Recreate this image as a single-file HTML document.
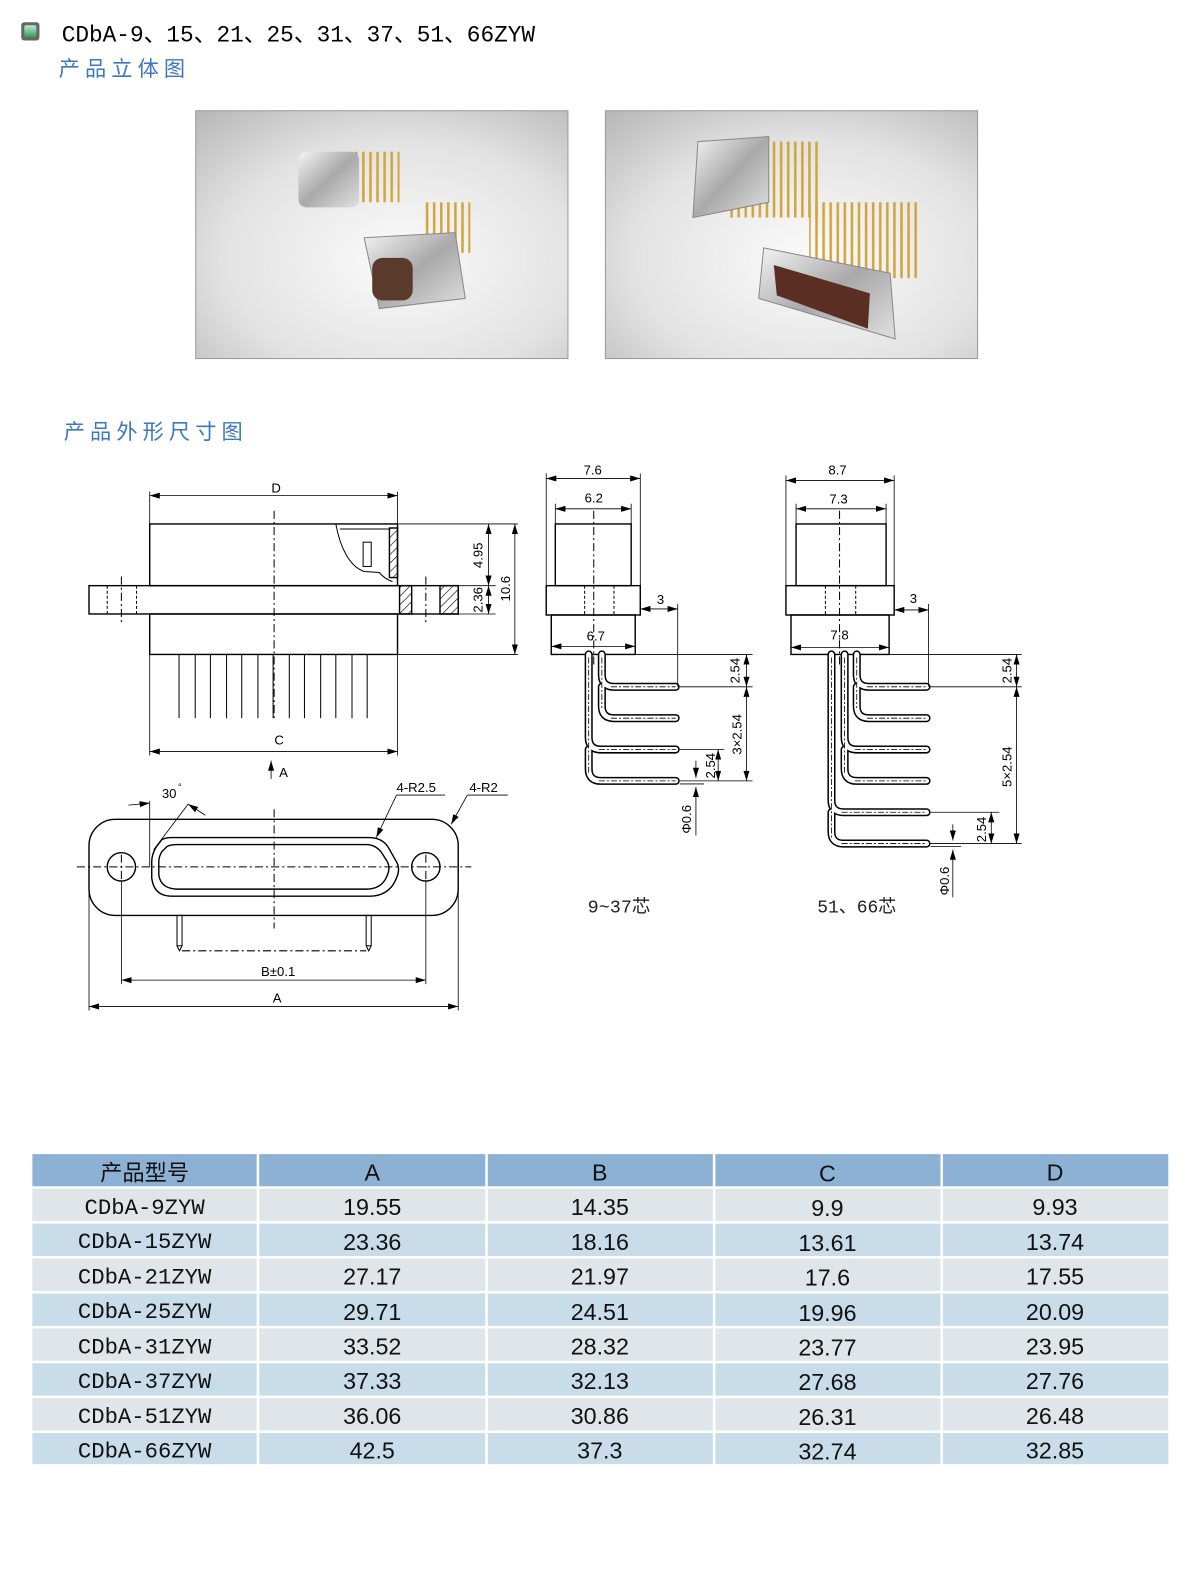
<!DOCTYPE html>
<html><head><meta charset="utf-8"><style>
html,body{margin:0;padding:0;background:#fff;width:1200px;height:1586px;overflow:hidden;}
svg{display:block}
</style></head><body>
<svg width="1200" height="1586" viewBox="0 0 1200 1586" xmlns="http://www.w3.org/2000/svg" font-family="Liberation Sans, sans-serif">
<defs>
<marker id="ar" viewBox="0 0 10 6" refX="10" refY="3" markerWidth="10" markerHeight="6" orient="auto-start-reverse" markerUnits="userSpaceOnUse"><path d="M0,0L10,3L0,6z" fill="#000"/></marker>
<linearGradient id="ic" x1="0" y1="0" x2="0" y2="1"><stop offset="0" stop-color="#bfe8cf"/><stop offset="1" stop-color="#2f9a5c"/></linearGradient>
<radialGradient id="bg" cx="0.55" cy="0.6" r="0.8"><stop offset="0" stop-color="#fbfbfb"/><stop offset="0.6" stop-color="#e2e2e2"/><stop offset="1" stop-color="#b8b8b8"/></radialGradient>
<linearGradient id="mt" x1="0" y1="0" x2="1" y2="1"><stop offset="0" stop-color="#f4f4f4"/><stop offset="0.5" stop-color="#a9a9a9"/><stop offset="1" stop-color="#e0e0e0"/></linearGradient>
<pattern id="gold" width="7" height="10" patternUnits="userSpaceOnUse"><rect x="1" width="2.5" height="10" fill="#d2a53c"/></pattern>
<pattern id="hat" width="6" height="6" patternUnits="userSpaceOnUse" patternTransform="rotate(45)"><line x1="0" y1="0" x2="0" y2="6" stroke="#000" stroke-width="1.2"/></pattern>
</defs>
<g transform="scale(1.0115)">
<rect x="21" y="22" width="18" height="18" rx="3" fill="#666"/>
<rect x="24" y="25" width="12" height="12" rx="2" fill="url(#ic)"/>
<text x="61" y="41" font-family="Liberation Mono, 'Noto Sans CJK SC', monospace" font-size="23" textLength="468" lengthAdjust="spacingAndGlyphs">CDbA-9、15、21、25、31、37、51、66ZYW</text>
<text x="58" y="75" font-family="'Noto Sans CJK SC', sans-serif" font-size="21" fill="#3b78bd" textLength="125">产品立体图</text>
<text x="63" y="434" font-family="'Noto Sans CJK SC', sans-serif" font-size="21" fill="#3b78bd" textLength="177">产品外形尺寸图</text>

<rect x="193.5" y="109.5" width="368" height="245" fill="url(#bg)" stroke="#999"/>
<rect x="598.5" y="109.5" width="368" height="245" fill="url(#bg)" stroke="#999"/>
<g>
<rect x="350" y="150" width="45" height="50" fill="url(#gold)"/>
<rect x="295" y="150" width="60" height="55" rx="8" fill="url(#mt)"/>
<rect x="420" y="200" width="45" height="50" fill="url(#gold)"/>
<path d="M360 235 L450 230 L460 295 L375 305 Z" fill="url(#mt)" stroke="#888"/>
<rect x="368" y="255" width="40" height="42" rx="10" fill="#5a3a2a"/>
</g>
<g>
<rect x="720" y="140" width="90" height="75" fill="url(#gold)"/>
<path d="M690 140 L760 135 L760 200 L685 215 Z" fill="url(#mt)" stroke="#888"/>
<rect x="800" y="200" width="110" height="75" fill="url(#gold)"/>
<path d="M755 245 L880 270 L885 335 L750 295 Z" fill="url(#mt)" stroke="#888"/>
<path d="M765 262 L860 290 L858 325 L768 292 Z" fill="#5a2e22"/>
</g>

<g fill="none" stroke="#000" stroke-width="1.4">
<rect x="148" y="518" width="245" height="61"/>
<rect x="88" y="579" width="365" height="28"/>
<rect x="148" y="607" width="245" height="40"/>
<rect x="385" y="522" width="8" height="49" fill="url(#hat)"/>
<rect x="395" y="579" width="12" height="28" fill="url(#hat)"/>
<rect x="435" y="579" width="18" height="28" fill="url(#hat)"/>
<path d="M332 518 C336 540 345 560 360 565 L375 566 C380 572 385 574 388 575" stroke-width="1"/>
<path d="M336 523 L385 523" stroke-width="1"/>
<rect x="359" y="536" width="8" height="24" stroke-width="1"/>
<g stroke-width="1">
<line x1="177" y1="647" x2="177" y2="710"/><line x1="193" y1="647" x2="193" y2="710"/><line x1="208" y1="647" x2="208" y2="710"/><line x1="224" y1="647" x2="224" y2="710"/><line x1="239" y1="647" x2="239" y2="710"/><line x1="255" y1="647" x2="255" y2="710"/><line x1="270" y1="647" x2="270" y2="710"/><line x1="286" y1="647" x2="286" y2="710"/><line x1="301" y1="647" x2="301" y2="710"/><line x1="317" y1="647" x2="317" y2="710"/><line x1="332" y1="647" x2="332" y2="710"/><line x1="348" y1="647" x2="348" y2="710"/><line x1="363" y1="647" x2="363" y2="710"/>
</g>
<g stroke-width="1" stroke-dasharray="8 3 2 3">
<line x1="271" y1="505" x2="271" y2="712"/>
<line x1="120" y1="570" x2="120" y2="616"/>
<line x1="421" y1="570" x2="421" y2="616"/>
</g>
<g stroke-width="1" stroke-dasharray="3 2"><line x1="106" y1="579" x2="106" y2="607"/><line x1="135" y1="579" x2="135" y2="607"/></g>
<g stroke-width="0.8">
<line x1="148" y1="486" x2="148" y2="518"/><line x1="393" y1="486" x2="393" y2="518"/>
<line x1="148" y1="490" x2="393" y2="490" marker-start="url(#ar)" marker-end="url(#ar)"/>
<line x1="148" y1="647" x2="148" y2="747"/><line x1="393" y1="647" x2="393" y2="747"/>
<line x1="148" y1="743" x2="393" y2="743" marker-start="url(#ar)" marker-end="url(#ar)"/>
<line x1="393" y1="518" x2="512" y2="518"/><line x1="453" y1="579" x2="490" y2="579"/><line x1="453" y1="607" x2="490" y2="607"/><line x1="393" y1="647" x2="512" y2="647"/>
<line x1="483" y1="518" x2="483" y2="579" marker-start="url(#ar)" marker-end="url(#ar)"/>
<line x1="483" y1="579" x2="483" y2="607" marker-start="url(#ar)" marker-end="url(#ar)"/>
<line x1="509" y1="518" x2="509" y2="647" marker-start="url(#ar)" marker-end="url(#ar)"/>
<line x1="268" y1="770" x2="268" y2="752" marker-end="url(#ar)"/>
</g>

<rect x="88" y="810" width="365" height="95" rx="26"/>
<circle cx="120" cy="857" r="14"/><circle cx="421" cy="857" r="14"/>
<path d="M170 828 L365 828 Q378 828 384 838 L392 852 Q396 859 392 868 Q385 886 365 886 L170 886 Q152 886 150 868 L150 852 Q150 845 154 838 L160 830 Q164 828 170 828Z"/>
<path d="M176 835 L362 835 Q372 835 378 844 L383 852 Q386 858 383 865 Q378 879 362 879 L176 879 Q159 879 157 865 L157 852 Q157 847 160 842 L165 837 Q168 835 176 835Z"/>
<rect x="175" y="905" width="5" height="30" stroke-width="1"/><rect x="362" y="905" width="5" height="30" stroke-width="1"/>
<path d="M175 935 L177.5 940 L180 935 M362 935 L364.5 940 L367 935" stroke-width="1"/>
<g stroke-width="1" stroke-dasharray="8 3 2 3">
<line x1="76" y1="857" x2="466" y2="857"/>
<line x1="271" y1="800" x2="271" y2="918"/>
<line x1="120" y1="845" x2="120" y2="870"/><line x1="421" y1="845" x2="421" y2="870"/>
<line x1="180" y1="940" x2="362" y2="940"/>
</g>
<g stroke-width="0.8">
<line x1="120" y1="871" x2="120" y2="973"/><line x1="421" y1="871" x2="421" y2="973"/>
<line x1="120" y1="969" x2="421" y2="969" marker-start="url(#ar)" marker-end="url(#ar)"/>
<line x1="88" y1="880" x2="88" y2="999"/><line x1="453" y1="880" x2="453" y2="999"/>
<line x1="88" y1="995" x2="453" y2="995" marker-start="url(#ar)" marker-end="url(#ar)"/>
<line x1="148" y1="792" x2="148" y2="857"/>
<line x1="127" y1="796" x2="148" y2="794" marker-end="url(#ar)"/>
<line x1="152" y1="840" x2="186" y2="795"/>
<line x1="186" y1="795" x2="203" y2="806" marker-start="url(#ar)"/>
<line x1="392" y1="786" x2="440" y2="786"/><line x1="392" y1="786" x2="372" y2="828" marker-end="url(#ar)"/>
<line x1="462" y1="786" x2="502" y2="786"/><line x1="462" y1="786" x2="446" y2="815" marker-end="url(#ar)"/>
</g>

<rect x="549" y="518" width="75" height="61"/>
<rect x="540" y="579" width="93" height="29"/>
<rect x="545" y="608" width="83" height="39"/>
<g stroke-width="1" stroke-dasharray="8 3 2 3"><line x1="587" y1="505" x2="587" y2="660"/></g>
<g stroke-width="1" stroke-dasharray="3 2"><line x1="578" y1="579" x2="578" y2="608"/><line x1="607" y1="579" x2="607" y2="608"/></g>
<g stroke="#000" stroke-width="8" stroke-linecap="round">
<path d="M595 647 V667 Q595 679 607 679 H668 M595 679 V698 Q595 710 607 710 H668 M582 647 V729 Q582 741 594 741 H668 M582 741 V760 Q582 772 594 772 H668"/>
</g>
<g stroke="#fff" stroke-width="5" stroke-linecap="round">
<path d="M595 647 V667 Q595 679 607 679 H668 M595 679 V698 Q595 710 607 710 H668 M582 647 V729 Q582 741 594 741 H668 M582 741 V760 Q582 772 594 772 H668"/>
</g>
<g stroke-width="0.8" stroke-dasharray="6 2 2 2"><path d="M604 679 H668 M604 710 H668 M592 741 H668 M592 772 H668 M595 650 V700 M582 650 V765"/></g>
<g stroke-width="0.8">
<line x1="540" y1="468" x2="540" y2="579"/><line x1="633" y1="468" x2="633" y2="579"/>
<line x1="540" y1="473" x2="633" y2="473" marker-start="url(#ar)" marker-end="url(#ar)"/>
<line x1="549" y1="498" x2="549" y2="518"/><line x1="624" y1="498" x2="624" y2="518"/>
<line x1="549" y1="503" x2="624" y2="503" marker-start="url(#ar)" marker-end="url(#ar)"/>
<line x1="545" y1="639" x2="628" y2="639" marker-start="url(#ar)" marker-end="url(#ar)"/>
<line x1="633" y1="602" x2="670" y2="602" marker-start="url(#ar)" marker-end="url(#ar)"/>
<line x1="670" y1="597" x2="670" y2="679"/>
<line x1="628" y1="647" x2="744" y2="647"/><line x1="672" y1="679" x2="744" y2="679"/><line x1="672" y1="741" x2="716" y2="741"/><line x1="672" y1="772" x2="744" y2="772"/>
<line x1="738" y1="647" x2="738" y2="679" marker-start="url(#ar)" marker-end="url(#ar)"/>
<line x1="738" y1="679" x2="738" y2="772" marker-start="url(#ar)" marker-end="url(#ar)"/>
<line x1="710" y1="741" x2="710" y2="772" marker-start="url(#ar)" marker-end="url(#ar)"/>
<line x1="672" y1="775" x2="696" y2="775"/>
<line x1="688" y1="752" x2="688" y2="769" marker-end="url(#ar)"/>
<line x1="688" y1="826" x2="688" y2="778" marker-end="url(#ar)"/>
</g>

<rect x="787" y="518" width="89" height="61"/>
<rect x="777" y="579" width="107" height="29"/>
<rect x="782" y="608" width="97" height="39"/>
<g stroke-width="1" stroke-dasharray="8 3 2 3"><line x1="830" y1="505" x2="830" y2="660"/></g>
<g stroke-width="1" stroke-dasharray="3 2"><line x1="816" y1="579" x2="816" y2="608"/><line x1="846" y1="579" x2="846" y2="608"/></g>
<g stroke="#000" stroke-width="8" stroke-linecap="round">
<path d="M847 647 V667 Q847 679 859 679 H916 M847 679 V698 Q847 710 859 710 H916 M835 647 V729 Q835 741 847 741 H916 M835 741 V760 Q835 772 847 772 H916 M822 647 V791 Q822 803 834 803 H916 M822 803 V822 Q822 834 834 834 H916"/>
</g>
<g stroke="#fff" stroke-width="5" stroke-linecap="round">
<path d="M847 647 V667 Q847 679 859 679 H916 M847 679 V698 Q847 710 859 710 H916 M835 647 V729 Q835 741 847 741 H916 M835 741 V760 Q835 772 847 772 H916 M822 647 V791 Q822 803 834 803 H916 M822 803 V822 Q822 834 834 834 H916"/>
</g>
<g stroke-width="0.8" stroke-dasharray="6 2 2 2"><path d="M857 679 H916 M857 710 H916 M845 741 H916 M845 772 H916 M832 803 H916 M832 834 H916 M847 650 V700 M835 650 V765 M822 650 V828"/></g>
<g stroke-width="0.8">
<line x1="777" y1="470" x2="777" y2="579"/><line x1="884" y1="470" x2="884" y2="579"/>
<line x1="777" y1="475" x2="884" y2="475" marker-start="url(#ar)" marker-end="url(#ar)"/>
<line x1="787" y1="498" x2="787" y2="518"/><line x1="876" y1="498" x2="876" y2="518"/>
<line x1="787" y1="503" x2="876" y2="503" marker-start="url(#ar)" marker-end="url(#ar)"/>
<line x1="782" y1="640" x2="879" y2="640" marker-start="url(#ar)" marker-end="url(#ar)"/>
<line x1="884" y1="603" x2="918" y2="603" marker-start="url(#ar)" marker-end="url(#ar)"/>
<line x1="918" y1="597" x2="918" y2="679"/>
<line x1="879" y1="647" x2="1010" y2="647"/><line x1="920" y1="679" x2="1010" y2="679"/><line x1="920" y1="803" x2="988" y2="803"/><line x1="920" y1="834" x2="1010" y2="834"/>
<line x1="1005" y1="647" x2="1005" y2="679" marker-start="url(#ar)" marker-end="url(#ar)"/>
<line x1="1005" y1="679" x2="1005" y2="834" marker-start="url(#ar)" marker-end="url(#ar)"/>
<line x1="980" y1="803" x2="980" y2="834" marker-start="url(#ar)" marker-end="url(#ar)"/>
<line x1="920" y1="837" x2="950" y2="837"/>
<line x1="942" y1="815" x2="942" y2="831" marker-end="url(#ar)"/>
<line x1="942" y1="887" x2="942" y2="840" marker-end="url(#ar)"/>
</g>
</g>

<g font-size="13" fill="#000">
<text x="273" y="487" text-anchor="middle">D</text>
<text x="276" y="736" text-anchor="middle">C</text>
<text x="276" y="768">A</text>
<text x="160" y="789">30</text><text x="176" y="781" font-size="9">°</text>
<text x="392" y="783">4-R2.5</text>
<text x="464" y="783">4-R2</text>
<text x="275" y="965" text-anchor="middle">B±0.1</text>
<text x="274" y="991" text-anchor="middle">A</text>
<text transform="translate(477,549) rotate(-90)" text-anchor="middle">4.95</text>
<text transform="translate(477,593) rotate(-90)" text-anchor="middle">2.36</text>
<text transform="translate(504,582) rotate(-90)" text-anchor="middle">10.6</text>
<text x="586" y="469" text-anchor="middle">7.6</text>
<text x="587" y="497" text-anchor="middle">6.2</text>
<text x="589" y="633" text-anchor="middle">6.7</text>
<text x="653" y="597" text-anchor="middle">3</text>
<text transform="translate(731,663) rotate(-90)" text-anchor="middle">2.54</text>
<text transform="translate(733,726) rotate(-90)" text-anchor="middle">3×2.54</text>
<text transform="translate(707,757) rotate(-90)" text-anchor="middle">2.54</text>
<text transform="translate(683,810) rotate(-90)" text-anchor="middle">Φ0.6</text>
<text x="828" y="469" text-anchor="middle">8.7</text>
<text x="829" y="498" text-anchor="middle">7.3</text>
<text x="830" y="632" text-anchor="middle">7.8</text>
<text x="903" y="596" text-anchor="middle">3</text>
<text transform="translate(1000,663) rotate(-90)" text-anchor="middle">2.54</text>
<text transform="translate(1000,758) rotate(-90)" text-anchor="middle">5×2.54</text>
<text transform="translate(975,820) rotate(-90)" text-anchor="middle">2.54</text>
<text transform="translate(938,871) rotate(-90)" text-anchor="middle">Φ0.6</text>
</g>
<g font-family="Liberation Mono, 'Noto Sans CJK SC', monospace" font-size="18" fill="#222">
<text x="581" y="902" textLength="62" lengthAdjust="spacingAndGlyphs">9~37芯</text>
<text x="808" y="902" textLength="78" lengthAdjust="spacingAndGlyphs">51、66芯</text>
</g>

<g>
<rect x="32" y="1141" width="1123" height="33" fill="#8db1d5"/>
<rect x="32" y="1174" width="1123" height="34.5" fill="#dfe5e8"/>
<rect x="32" y="1208.5" width="1123" height="34.5" fill="#c8dde9"/>
<rect x="32" y="1243" width="1123" height="34.5" fill="#dfe5e8"/>
<rect x="32" y="1277.5" width="1123" height="34.5" fill="#c8dde9"/>
<rect x="32" y="1312" width="1123" height="34.5" fill="#dfe5e8"/>
<rect x="32" y="1346.5" width="1123" height="34.5" fill="#c8dde9"/>
<rect x="32" y="1381" width="1123" height="34.5" fill="#dfe5e8"/>
<rect x="32" y="1415.5" width="1123" height="32" fill="#c8dde9"/>
<g stroke="#fff" stroke-width="2.5">
<line x1="255" y1="1141" x2="255" y2="1448"/><line x1="481" y1="1141" x2="481" y2="1448"/><line x1="706" y1="1141" x2="706" y2="1448"/><line x1="931" y1="1141" x2="931" y2="1448"/>
<line x1="32" y1="1174" x2="1155" y2="1174"/><line x1="32" y1="1208.5" x2="1155" y2="1208.5"/><line x1="32" y1="1243" x2="1155" y2="1243"/><line x1="32" y1="1277.5" x2="1155" y2="1277.5"/><line x1="32" y1="1312" x2="1155" y2="1312"/><line x1="32" y1="1346.5" x2="1155" y2="1346.5"/><line x1="32" y1="1381" x2="1155" y2="1381"/><line x1="32" y1="1415.5" x2="1155" y2="1415.5"/>
</g>
<g font-size="23" fill="#111" text-anchor="middle">
<text x="143" y="1167" font-family="'Noto Sans CJK SC', sans-serif" font-size="22">产品型号</text>
<text x="368" y="1167">A</text><text x="593" y="1167">B</text><text x="818" y="1168">C</text><text x="1043" y="1167">D</text>
<g font-family="Liberation Mono, monospace" font-size="22">
<text x="143" y="1200">CDbA-9ZYW</text>
<text x="143" y="1234">CDbA-15ZYW</text>
<text x="143" y="1269">CDbA-21ZYW</text>
<text x="143" y="1303">CDbA-25ZYW</text>
<text x="143" y="1338">CDbA-31ZYW</text>
<text x="143" y="1372">CDbA-37ZYW</text>
<text x="143" y="1407">CDbA-51ZYW</text>
<text x="143" y="1441">CDbA-66ZYW</text>
</g>
<text x="368" y="1201">19.55</text><text x="593" y="1201">14.35</text><text x="818" y="1202">9.9</text><text x="1043" y="1201">9.93</text>
<text x="368" y="1236">23.36</text><text x="593" y="1236">18.16</text><text x="818" y="1237">13.61</text><text x="1043" y="1236">13.74</text>
<text x="368" y="1270">27.17</text><text x="593" y="1270">21.97</text><text x="818" y="1271">17.6</text><text x="1043" y="1270">17.55</text>
<text x="368" y="1305">29.71</text><text x="593" y="1305">24.51</text><text x="818" y="1306">19.96</text><text x="1043" y="1305">20.09</text>
<text x="368" y="1339">33.52</text><text x="593" y="1339">28.32</text><text x="818" y="1340">23.77</text><text x="1043" y="1339">23.95</text>
<text x="368" y="1373">37.33</text><text x="593" y="1373">32.13</text><text x="818" y="1374">27.68</text><text x="1043" y="1373">27.76</text>
<text x="368" y="1408">36.06</text><text x="593" y="1408">30.86</text><text x="818" y="1409">26.31</text><text x="1043" y="1408">26.48</text>
<text x="368" y="1442">42.5</text><text x="593" y="1442">37.3</text><text x="818" y="1443">32.74</text><text x="1043" y="1442">32.85</text>
</g>
</g>
</g>
</svg>
</body></html>
